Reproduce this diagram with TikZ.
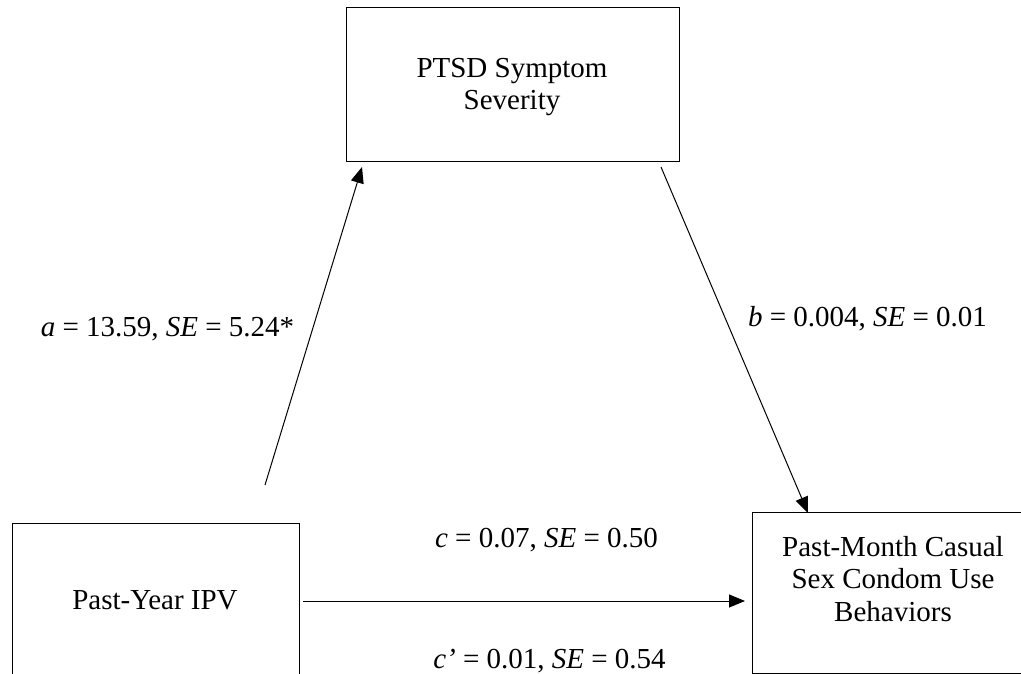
\documentclass[tikz,border=0pt]{standalone}
\usepackage{fontspec}
\setmainfont{Liberation Serif}
\usetikzlibrary{arrows.meta}
\begin{document}
\begin{tikzpicture}[x=1pt,y=-1pt,
  every node/.style={font=\fontsize{29}{32.5}\selectfont, inner sep=0pt},
  box/.style={draw, line width=1.2pt, rectangle, anchor=north west},
  txt/.style={anchor=base, align=center},
  link/.style={line width=1pt, -{Triangle[length=16pt,width=13pt]}},
]
\clip (0,0) rectangle (1021,674);

% variable boxes
\node[box, minimum width=333pt, minimum height=154pt] (ptsdbox) at (346,7) {};
\node[box, minimum width=287pt, minimum height=154pt] (ipvbox) at (12,523) {};
\node[box, minimum width=282pt, minimum height=161pt] (condbox) at (752,512) {};

% box texts (base anchor sits on the last line)
\node[txt] (ptsd) at (512,110) {PTSD Symptom\\Severity};
\node[txt] (ipv) at (155,609) {Past-Year IPV};
\node[txt] (cond) at (893,621) {Past-Month Casual\\Sex Condom Use\\Behaviors};

% path end points
\coordinate (aS) at (265,485);
\coordinate (aE) at (362,167);
\coordinate (bS) at (661,167);
\coordinate (bE) at (808,513);
\coordinate (cS) at (303,601);
\coordinate (cE) at (745,601);

\draw[link] (aS) -- (aE);
\draw[link] (bS) -- (bE);
\draw[link] (cS) -- (cE);

% path coefficients
\node[txt] (alab) at (167.5,336) {\textit{a} = 13.59, \textit{SE} = 5.24*};
\node[txt] (blab) at (867.5,326) {\textit{b} = 0.004, \textit{SE} = 0.01};
\node[txt] (clab) at (546.5,547) {\textit{c} = 0.07, \textit{SE} = 0.50};
\node[txt] (cplab) at (549.5,668) {\textit{c’} = 0.01, \textit{SE} = 0.54};
\end{tikzpicture}
\end{document}
